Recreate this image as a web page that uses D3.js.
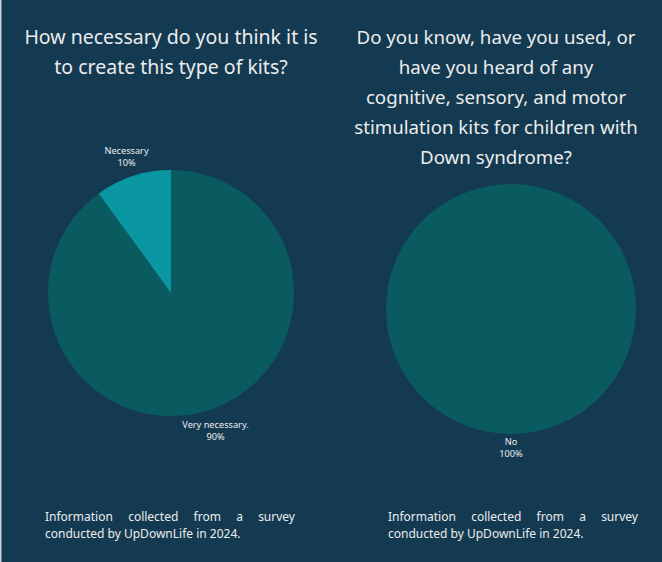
<!DOCTYPE html>
<html>
<head>
<meta charset="utf-8">
<script src="https://cdn.jsdelivr.net/npm/d3@7"></script>
<style>
  html, body { margin: 0; padding: 0; background: #143a52; }
  svg { display: block; }
  text { font-family: "Noto Sans", "Open Sans", sans-serif; fill: #ececec; }
</style>
</head>
<body>
<svg id="chart" width="662" height="562"></svg>
<script>
// Survey answers, one pie per question
const leftTitle = ["How necessary do you think it is", "to create this type of kits?"];
const leftCategories = ["Very necessary.", "Necessary"];
const leftValues = [90, 10];

const rightTitle = ["Do you know, have you used, or", "have you heard of any",
  "cognitive, sensory, and motor", "stimulation kits for children with", "Down syndrome?"];
const rightCategories = ["No"];
const rightValues = [100];

const footnote = ["Information collected from a survey", "conducted by UpDownLife in 2024."];

const W = 662, H = 562;
const svg = d3.select("#chart");
svg.append("rect").attr("width", W).attr("height", H).attr("fill", "#143a52");
svg.append("rect").attr("x", 0).attr("y", 0).attr("width", 1.5).attr("height", H).attr("fill", "#c9d2d8");

const color = d3.scaleOrdinal()
  .domain(["Very necessary.", "Necessary", "No"])
  .range(["#0a5b5f", "#0a97a2", "#0a5b5f"]);

function drawPanel(cfg) {
  const g = svg.append("g");
  // title
  cfg.title.forEach((line, i) => {
    g.append("text")
      .attr("x", cfg.tx).attr("y", 44 + i * 30)
      .attr("text-anchor", "middle")
      .attr("font-size", cfg.tsize)
      .text(line);
  });
  // pie
  const data = cfg.categories.map((c, i) => ({ cat: c, value: cfg.values[i] }));
  const pie = d3.pie().value(d => d.value).sort(null);
  const arc = d3.arc().innerRadius(0).outerRadius(cfg.r);
  const labelArc = d3.arc().innerRadius(cfg.r + cfg.lab).outerRadius(cfg.r + cfg.lab);
  const pg = g.append("g").attr("transform", `translate(${cfg.cx},${cfg.cy})`);
  const arcs = pie(data);
  pg.selectAll("path").data(arcs).join("path")
    .attr("d", arc).attr("fill", d => color(d.data.cat));
  const lg = pg.selectAll("g.lab").data(arcs).join("g").attr("class", "lab")
    .attr("transform", d => `translate(${labelArc.centroid(d)})`);
  lg.append("text").attr("text-anchor", "middle").attr("y", -2)
    .attr("font-size", 9.2).text(d => d.data.cat);
  lg.append("text").attr("text-anchor", "middle").attr("y", 10)
    .attr("font-size", 9.2).text(d => d.data.value + "%");
  // footnote, first line justified
  const fx = cfg.fx, fw = 250;
  const words = footnote[0].split(" ");
  const tmp = words.map(w => g.append("text").attr("font-size", 12).attr("y", 521).text(w));
  const widths = tmp.map(t => t.node().getComputedTextLength());
  const gap = (fw - d3.sum(widths)) / (words.length - 1);
  let x = fx;
  tmp.forEach((t, i) => { t.attr("x", x); x += widths[i] + gap; });
  g.append("text").attr("x", fx).attr("y", 538).attr("font-size", 12).text(footnote[1]);
}

drawPanel({ title: leftTitle, categories: leftCategories, values: leftValues,
  tx: 171, tsize: 19.5, cx: 171, cy: 293, r: 123, lab: 21, fx: 45 });
drawPanel({ title: rightTitle, categories: rightCategories, values: rightValues,
  tx: 496, tsize: 18.7, cx: 511, cy: 309, r: 125, lab: 13, fx: 388 });
</script>
</body>
</html>
